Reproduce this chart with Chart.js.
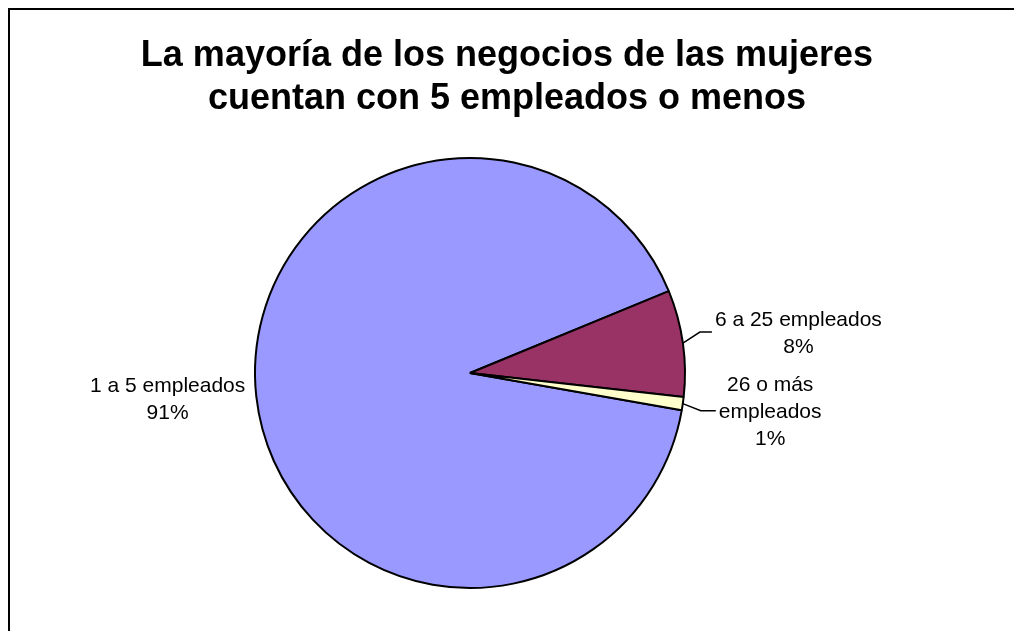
<!DOCTYPE html>
<html>
<head>
<meta charset="utf-8">
<title>Negocios de las mujeres</title>
<script src="https://cdn.jsdelivr.net/npm/chart.js@4/dist/chart.umd.min.js"></script>
<style>
    html, body { margin: 0; padding: 0; background: #fff; overflow: hidden; }
    #wrap { position: relative; width: 1014px; height: 631px; }
    #frame {
        position: absolute; left: 8px; top: 8px; width: 1100px; height: 700px;
        border-left: 2px solid #000; border-top: 2px solid #000;
    }
    canvas { position: absolute; left: 0; top: 0; }
</style>
</head>
<body>
<div id="wrap">
    <div id="frame"></div>
    <canvas id="pieChart" width="1014" height="631"></canvas>
</div>
<script>
// --- Data ---
const titleLines = ['La mayoría de los negocios de las mujeres', 'cuentan con 5 empleados o menos'];
const categories = [['1 a 5 empleados'], ['6 a 25 empleados'], ['26 o más', 'empleados']];
const shares = [91, 8, 1];
const sliceColors = ['#9999FF', '#993366', '#FFFFCC'];

// Title drawn centred on the whole canvas
const titlePlugin = {
    id: 'centredTitle',
    afterDraw(chart) {
        const ctx = chart.ctx;
        ctx.save();
        ctx.fillStyle = '#000';
        ctx.font = 'bold 36px "Liberation Sans", Arial, sans-serif';
        ctx.textAlign = 'center';
        ctx.textBaseline = 'alphabetic';
        titleLines.forEach((line, i) => ctx.fillText(line, chart.width / 2, 66 + i * 43));
        ctx.restore();
    }
};

// Category + percent labels, some with leader lines
const sliceLabels = {
    id: 'sliceLabels',
    afterDatasetsDraw(chart, args, opts) {
        const ctx = chart.ctx;
        const meta = chart.getDatasetMeta(0);
        const data = chart.data.datasets[0].data;
        const total = data.reduce((a, b) => a + b, 0);
        const fontSize = 21;
        const lineH = 27;

        ctx.save();
        ctx.font = fontSize + 'px "Liberation Sans", Arial, sans-serif';
        ctx.fillStyle = '#000';
        ctx.strokeStyle = '#000';
        ctx.lineWidth = 1.5;
        ctx.textAlign = 'center';
        ctx.textBaseline = 'alphabetic';

        meta.data.forEach((arc, i) => {
            const { x, y, startAngle, endAngle, outerRadius } = arc.getProps(['x', 'y', 'startAngle', 'endAngle', 'outerRadius'], true);
            const mid = (startAngle + endAngle) / 2;
            const ex = x + Math.cos(mid) * outerRadius;
            const ey = y + Math.sin(mid) * outerRadius;

            const lines = categories[i].concat([Math.round(data[i] / total * 100) + '%']);
            const blockW = Math.max(...lines.map(l => ctx.measureText(l).width));
            const blockH = lines.length * lineH;
            const place = opts.placement[i];

            let cx, cy;
            if (place.leader) {
                const [dx, dy, run] = place.leader;
                const kx = ex + dx, ky = ey + dy;
                ctx.beginPath();
                ctx.moveTo(ex, ey);
                ctx.lineTo(kx, ky);
                ctx.lineTo(kx + run, ky);
                ctx.stroke();
                cx = kx + run + 3 + blockW / 2;
                cy = ky;
            } else {
                cx = ex + place.dx - blockW / 2;
                cy = ey + place.dy;
            }

            const top = cy - blockH / 2;
            lines.forEach((l, j) => {
                ctx.fillText(l, cx, top + lineH * j + lineH / 2 + fontSize * 0.358);
            });
        });
        ctx.restore();
    }
};

new Chart(document.getElementById('pieChart'), {
    type: 'pie',
    data: {
        labels: categories.map(c => c.join(' ')),
        datasets: [{
            data: shares,
            backgroundColor: sliceColors,
            borderColor: '#000',
            borderWidth: 2,
            hoverOffset: 0
        }]
    },
    options: {
        responsive: false,
        animation: false,
        rotation: 100,
        radius: 215,
        layout: { padding: { top: 158, bottom: 43, left: 0, right: 74 } },
        plugins: {
            legend: { display: false },
            tooltip: { enabled: false },
            title: { display: false },
            sliceLabels: {
                placement: [
                    { dx: -11, dy: 2 },
                    { leader: [17, -11, 12] },
                    { leader: [18, 7, 15] }
                ]
            }
        }
    },
    plugins: [titlePlugin, sliceLabels]
});
</script>
</body>
</html>
